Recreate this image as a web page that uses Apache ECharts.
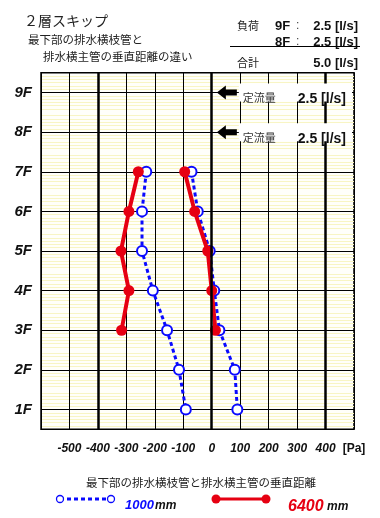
<!DOCTYPE html>
<html><head><meta charset="utf-8">
<script src="https://cdn.jsdelivr.net/npm/echarts@6/dist/echarts.min.js"></script>
<style>html,body{margin:0;padding:0;background:#fff}#c{width:380px;height:518px}</style>
</head><body><div id="c"></div>
<script>
// ---- data ----
const floorsBlue = [7, 6, 5, 4, 3, 2, 1];
const floorsRed = [7, 6, 5, 4, 3];
const blue1000Branch = [-230, -245, -245, -207, -157, -115, -91];
const blue1000Main = [-71, -49, -7, 9, 27, 81, 90];
const red6400Branch = [-258, -291, -319, -291, -317];
const red6400Main = [-95, -60, -14, 0, 13];
const xMin = -600, xMax = 500, xStep = 100;
const yMin = 0.5, yMax = 9.5, yStep = 0.5;
const heavyLines = [-400, 0, 400];
const loadFloors = [9, 8];
const loadLabels = ['定流量', '定流量'];
const loadValues = ['2.5 [l/s]', '2.5 [l/s]'];
const arrowTipX = 18;

const LAT = "'Liberation Sans', Arial, sans-serif";
const JP = "'Noto Sans CJK JP', sans-serif";
const BLUE = '#0a0aff';
const RED = '#e60012';

function pairs(xs, ys) { return xs.map((x, i) => [x, ys[i]]); }

const chart = echarts.init(document.getElementById('c'), null, { renderer: 'canvas' });

const blueStyle = {
  type: 'line', symbol: 'emptyCircle', symbolSize: 10, z: 3,
  lineStyle: { color: BLUE, width: 3, type: [4, 3], cap: 'butt' },
  itemStyle: { color: BLUE, borderColor: BLUE, borderWidth: 1.5 },
  emphasis: { disabled: true }, animation: false
};
const redStyle = {
  type: 'line', symbol: 'circle', symbolSize: 11, z: 4,
  lineStyle: { color: RED, width: 4 },
  itemStyle: { color: RED },
  emphasis: { disabled: true }, animation: false
};

const option = {
  animation: false,
  backgroundColor: '#fff',
  grid: { left: 41, right: 26, top: 72.7, bottom: 88.7, show: true,
    backgroundColor: '#fffffa', borderColor: '#000', borderWidth: 1.5 },
  xAxis: {
    type: 'value', min: xMin, max: xMax, interval: xStep,
    axisLine: { show: false }, axisTick: { show: false },
    splitLine: { show: true, lineStyle: { color: '#000', width: 1 } },
    axisLabel: {
      margin: 13,
      formatter: v => v === xMin ? '' : (v === xMax ? '{u|[Pa]}' : '{n|' + v + '}'),
      rich: {
        n: { fontFamily: LAT, fontSize: 12, fontWeight: 'bold', fontStyle: 'italic', color: '#111' },
        u: { fontFamily: LAT, fontSize: 12, fontWeight: 'bold', color: '#111' }
      }
    }
  },
  yAxis: {
    type: 'value', min: yMin, max: yMax, interval: yStep,
    axisLine: { show: false }, axisTick: { show: false },
    splitLine: { show: true, lineStyle: { color: ['rgba(0,0,0,0)', '#000'], width: 1 } },
    minorTick: { show: false, splitNumber: 6 },
    minorSplitLine: { show: true, lineStyle: { color: '#f8f5c4', width: 1 } },
    axisLabel: {
      margin: 9,
      formatter: v => Number.isInteger(v) ? v + 'F' : '',
      fontFamily: LAT, fontSize: 15, fontWeight: 'bold', fontStyle: 'italic', color: '#111'
    }
  },
  series: [
    Object.assign({ name: '1000 branch', data: pairs(blue1000Branch, floorsBlue) }, blueStyle),
    Object.assign({ name: '1000 main', data: pairs(blue1000Main, floorsBlue) }, blueStyle),
    Object.assign({ name: '6400 branch', data: pairs(red6400Branch, floorsRed) }, redStyle),
    Object.assign({ name: '6400 main', data: pairs(red6400Main, floorsRed) }, redStyle),
    {
      type: 'line', data: [], silent: true, z: 2,
      markLine: {
        silent: true, symbol: 'none', animation: false, label: { show: false },
        lineStyle: { color: '#000', width: 2.5, type: 'solid' },
        data: heavyLines.map(v => ({ xAxis: v }))
      }
    },
    {
      type: 'custom', z: 5, silent: true, clip: false,
      data: loadFloors.map((f, i) => [arrowTipX, f, i]),
      renderItem: function (params, api) {
        const i = api.value(2);
        const p = api.coord([api.value(0), api.value(1)]);
        const right = api.coord([xMax, api.value(1)])[0];
        const tx = p[0], ty = p[1];
        return {
          type: 'group', children: [
            { type: 'rect', shape: { x: tx + 22, y: ty - 9, width: right - tx - 24, height: 18 },
              style: { fill: '#fff' } },
            { type: 'polygon', shape: { points: [
                [tx, ty], [tx + 9, ty - 7], [tx + 9, ty - 3], [tx + 20, ty - 3],
                [tx + 20, ty + 3], [tx + 9, ty + 3], [tx + 9, ty + 7]] },
              style: { fill: '#000' } },
            { type: 'text', style: { text: loadLabels[i], x: tx + 26, y: ty, fill: '#333',
                font: '11px ' + JP, textAlign: 'left', textBaseline: 'middle' } },
            { type: 'text', style: { text: loadValues[i], x: right - 8, y: ty, fill: '#111',
                font: 'bold 14px ' + LAT, textAlign: 'right', textBaseline: 'middle' } }
          ]
        };
      }
    }
  ],
  graphic: [
    { type: 'text', style: { text: '２層スキップ', x: 24, y: 14, font: '14px ' + JP, fill: '#222', textBaseline: 'middle' } },
    { type: 'text', style: { text: '最下部の排水横枝管と', x: 28, y: 34, font: '11.5px ' + JP, fill: '#222', textBaseline: 'middle' } },
    { type: 'text', style: { text: '排水横主管の垂直距離の違い', x: 43, y: 51, font: '11.5px ' + JP, fill: '#222', textBaseline: 'middle' } },
    { type: 'text', style: { text: '負荷', x: 237, y: 20, font: '11px ' + JP, fill: '#222', textBaseline: 'middle' } },
    { type: 'text', style: { text: '9F', x: 275, y: 20, font: 'bold 13px ' + LAT, fill: '#111', textBaseline: 'middle' } },
    { type: 'text', style: { text: ':', x: 296, y: 20, font: '12px ' + LAT, fill: '#444', textBaseline: 'middle' } },
    { type: 'text', style: { text: '2.5 [l/s]', x: 358, y: 20, font: 'bold 13px ' + LAT, fill: '#111', textAlign: 'right', textBaseline: 'middle' } },
    { type: 'text', style: { text: '8F', x: 275, y: 35.5, font: 'bold 13px ' + LAT, fill: '#111', textBaseline: 'middle' } },
    { type: 'text', style: { text: ':', x: 296, y: 35.5, font: '12px ' + LAT, fill: '#444', textBaseline: 'middle' } },
    { type: 'text', style: { text: '2.5 [l/s]', x: 358, y: 35.5, font: 'bold 13px ' + LAT, fill: '#111', textAlign: 'right', textBaseline: 'middle' } },
    { type: 'line', shape: { x1: 230, y1: 46.5, x2: 360, y2: 46.5 }, style: { stroke: '#000', lineWidth: 1 } },
    { type: 'text', style: { text: '合計', x: 237, y: 57, font: '11px ' + JP, fill: '#222', textBaseline: 'middle' } },
    { type: 'text', style: { text: '5.0 [l/s]', x: 358, y: 57, font: 'bold 13px ' + LAT, fill: '#111', textAlign: 'right', textBaseline: 'middle' } },
    { type: 'text', style: { text: '最下部の排水横枝管と排水横主管の垂直距離', x: 201, y: 477, font: '11.5px ' + JP, fill: '#222', textAlign: 'center', textBaseline: 'middle' } },
    // legend
    { type: 'line', shape: { x1: 60, y1: 499, x2: 111, y2: 499 }, style: { stroke: BLUE, lineWidth: 3, lineDash: [4, 3] } },
    { type: 'circle', shape: { cx: 60, cy: 499, r: 3.5 }, style: { fill: '#fff', stroke: BLUE, lineWidth: 1.3 } },
    { type: 'circle', shape: { cx: 111, cy: 499, r: 3.5 }, style: { fill: '#fff', stroke: BLUE, lineWidth: 1.3 } },
    { type: 'text', style: { text: '1000', x: 125, y: 499, font: 'italic bold 13px ' + LAT, fill: BLUE, textBaseline: 'middle' } },
    { type: 'text', style: { text: 'mm', x: 155, y: 500, font: 'italic bold 12px ' + LAT, fill: '#111', textBaseline: 'middle' } },
    { type: 'line', shape: { x1: 216, y1: 499, x2: 266, y2: 499 }, style: { stroke: RED, lineWidth: 3 } },
    { type: 'circle', shape: { cx: 216, cy: 499, r: 4.5 }, style: { fill: RED } },
    { type: 'circle', shape: { cx: 266, cy: 499, r: 4.5 }, style: { fill: RED } },
    { type: 'text', style: { text: '6400', x: 288, y: 499, font: 'italic bold 16px ' + LAT, fill: RED, textBaseline: 'middle' } },
    { type: 'text', style: { text: 'mm', x: 327, y: 501, font: 'italic bold 12px ' + LAT, fill: '#111', textBaseline: 'middle' } }
  ]
};
chart.setOption(option);
</script>
</body></html>
